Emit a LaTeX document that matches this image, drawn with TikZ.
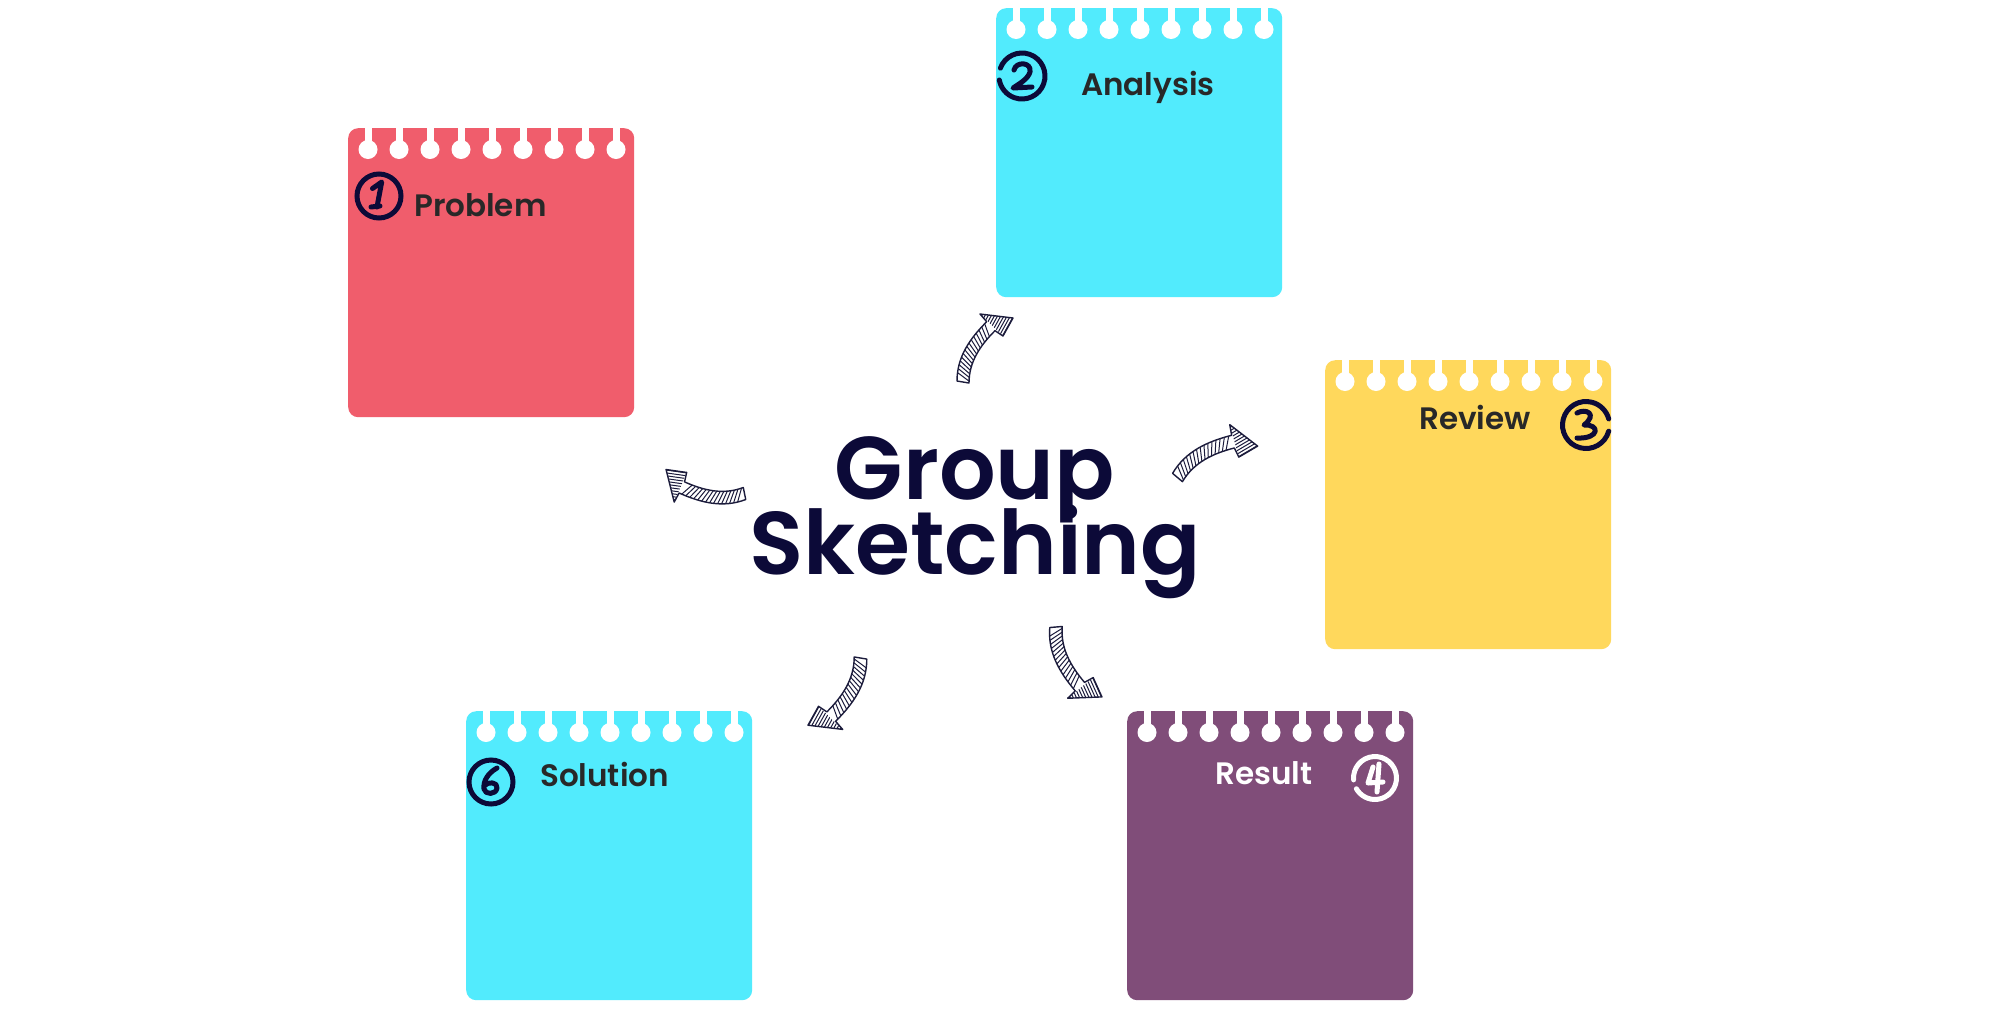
\documentclass[tikz,border=0pt]{standalone}
\usepackage{fontspec}
\usetikzlibrary{calc}
\IfFontExistsTF{Poppins SemiBold}{\newfontfamily\popsb{Poppins SemiBold}}{\newfontfamily\popsbx{Poppins}\newcommand\popsb{\popsbx\bfseries}}
\definecolor{coral}{RGB}{240,93,108}
\definecolor{cyanc}{RGB}{82,235,253}
\definecolor{yellowc}{RGB}{255,216,92}
\definecolor{purplec}{RGB}{128,77,121}
\definecolor{navy}{RGB}{12,10,56}
\definecolor{labelgray}{RGB}{40,40,40}
\definecolor{arrowink}{RGB}{28,28,60}
\tikzset{
 card/.style={rounded corners=10pt, minimum width=286pt, minimum height=289pt, anchor=north west, inner sep=0pt, draw=none},
 lbl/.style={anchor=base west, inner sep=0pt, font=\popsb\fontsize{31}{31}\selectfont, text=labelgray},
 titletext/.style={anchor=base, inner sep=0pt, font=\popsb\fontsize{89}{89}\selectfont, text=navy},
 ringline/.style={draw=navy, line width=5pt, line cap=round},
 digitline/.style={draw=navy, line width=5pt, line cap=round, line join=round},
 arrowline/.style={draw=arrowink, line width=1.4pt, line join=round},
 hatchline/.style={draw=arrowink, line width=1pt},
}
\newcommand\cardholes[1]{%
 \foreach \i in {0,...,8}{%
  \fill[white] ($(#1.north west)+(20+31*\i,21.5)$) circle (9.5);
  \fill[white] ($(#1.north west)+(16.5+31*\i,-2)$) rectangle ++(7,23.5);
 }}
\newcommand\arrowshape{(-6,1) .. controls (-6,25) and (6.7,43.3) .. (23.7,60.3) -- (17,68) -- (50,64) -- (40,46) -- (32,51.3) .. controls (17,36.3) and (6,20) .. (6,-1) -- cycle}
\newcommand\hatcharrow[1]{%
\begin{scope}[#1]
 \begin{scope}
  \clip (17,68) -- (50,64) -- (40,46) -- cycle;
  \foreach \k in {-2,...,11} {\draw[hatchline] (\k*3.2-1,25) -- ++(61:70);}
 \end{scope}
 \foreach \t in {0.03,0.09,...,0.88} {
  \pgfmathsetmacro\s{\t+0.09}
  \pgfmathsetmacro\ix{(1-\t)^3*6+3*(1-\t)^2*\t*6+3*(1-\t)*\t^2*17+\t^3*32}
  \pgfmathsetmacro\iy{(1-\t)^3*(-1)+3*(1-\t)^2*\t*20+3*(1-\t)*\t^2*36.3+\t^3*51.3}
  \pgfmathsetmacro\ox{(1-\s)^3*(-6)+3*(1-\s)^2*\s*(-6)+3*(1-\s)*\s^2*6.7+\s^3*23.7}
  \pgfmathsetmacro\oy{(1-\s)^3*1+3*(1-\s)^2*\s*25+3*(1-\s)*\s^2*43.3+\s^3*60.3}
  \draw[hatchline] (\ix,\iy) -- (\ox,\oy);
 }
 \draw[arrowline] \arrowshape;
\end{scope}}
\begin{document}
\begin{tikzpicture}[x=1pt,y=-1pt]
\useasboundingbox (0,0) rectangle (2000,1010);
\fill[white] (0,0) rectangle (2000,1010);

% cards
\node[card, fill=coral] (problem) at (348,128) {};
\node[card, fill=cyanc] (analysis) at (996,8) {};
\node[card, fill=yellowc] (review) at (1325,360) {};
\node[card, fill=purplec] (result) at (1127,711) {};
\node[card, fill=cyanc] (solution) at (466,711) {};
\cardholes{problem}
\cardholes{analysis}
\cardholes{review}
\cardholes{result}
\cardholes{solution}

% labels
\node[lbl] (lproblem) at (414,216) {Problem};
\node[lbl] (lanalysis) at (1081,95) {Analysis};
\node[lbl] (lreview) at (1419,429) {Review};
\node[lbl, text=white] (lresult) at (1215,784) {Result};
\node[lbl] (lsolution) at (540,786) {Solution};

% title
\node[titletext] (title1) at (975,499) {Group};
\node[titletext] (title2) at (975,574) {Sketching};

% badges
\begin{scope}[shift={(379,196)}]
 \draw[ringline] (0,0) circle (22);
 \draw[digitline] (-6.5,-7.5) -- (2.7,-14) -- (-2,11);
 \draw[digitline] (-8,11) -- (1,10);
\end{scope}
\begin{scope}[shift={(1022,76)}]
 \draw[ringline] (200:23) arc[start angle=200, end angle=530, radius=23];
 \draw[digitline] (-8,-6) .. controls (-6,-15) and (10,-14) .. (8,-4) .. controls (6,3) and (-3,8) .. (-9,12) -- (10,11);
\end{scope}
\begin{scope}[shift={(1586,425)}]
 \draw[ringline] (15:23.5) arc[start angle=15, end angle=345, radius=23.5];
 \draw[digitline] (-9,-12) .. controls (0,-17) and (12,-11) .. (-2,0) .. controls (14,-1) and (14,14) .. (-9,13);
\end{scope}
\begin{scope}[shift={(1375,778)}]
 \draw[ringline, draw=white] (175:21.5) arc[start angle=175, end angle=510, radius=21.5];
 \draw[digitline, draw=white] (-2,-11) -- (-7,5) -- (8,4);
 \draw[digitline, draw=white] (4,-14) -- (2,14);
\end{scope}
\begin{scope}[shift={(491,782)}]
 \draw[ringline] (0,0) circle (22);
 \draw[digitline] (6,-14) .. controls (-3,-9) and (-8,-1) .. (-7,7) .. controls (-6,13) and (5,13) .. (6,6) .. controls (7,0) and (-3,-1) .. (-7,4);
\end{scope}

% hatched arrows
\hatcharrow{shift={(963,382)}, y=1pt}
\hatcharrow{shift={(1177.5,477.5)}, y=1pt, rotate=-30.6, scale=1.06}
\hatcharrow{shift={(744.5,493.5)}, y=1pt, rotate=111, scale=1.01}
\hatcharrow{shift={(1056,627)}, y=1pt, rotate=175.3, scale=1.03, xscale=-1}
\hatcharrow{shift={(860.5,658)}, y=1pt, rotate=180, scale=1.05}
\end{tikzpicture}
\end{document}
